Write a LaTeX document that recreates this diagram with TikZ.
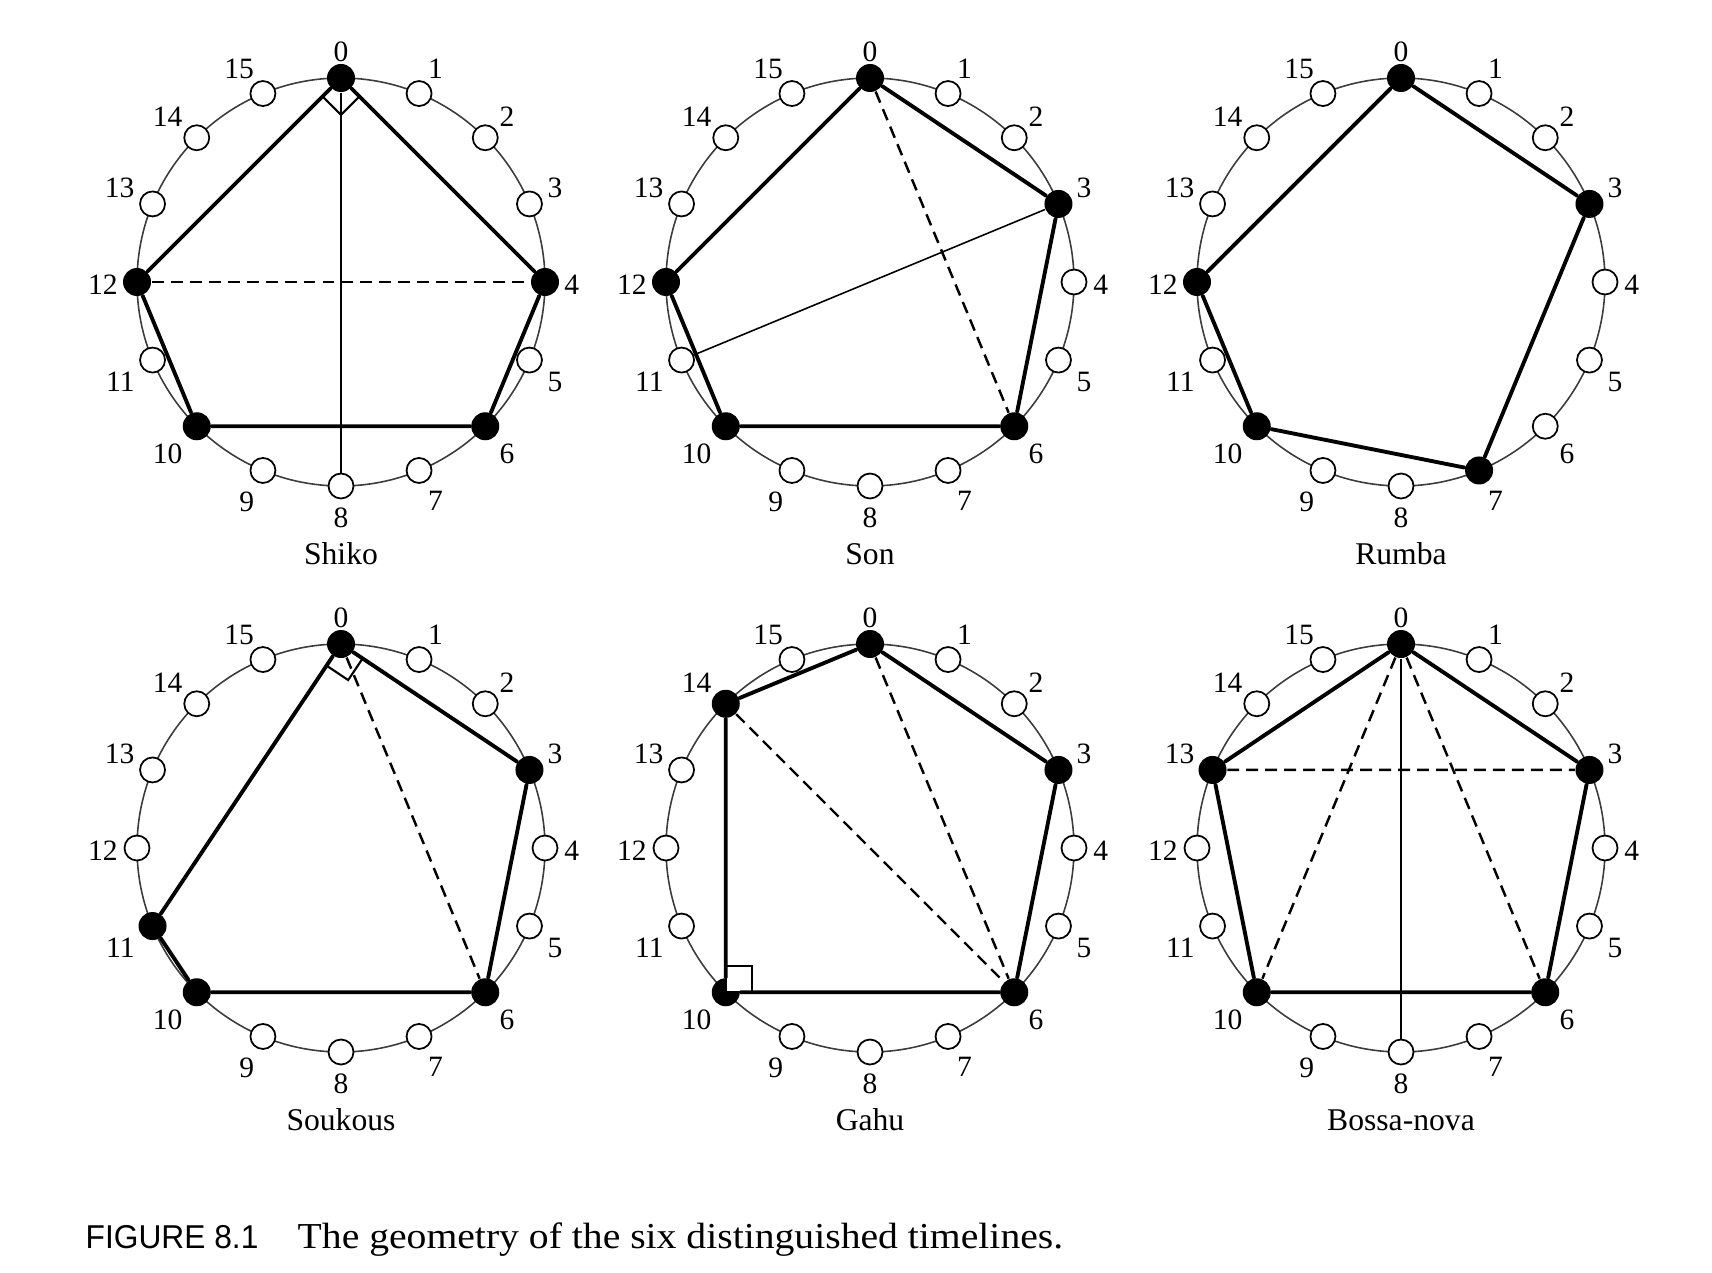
\documentclass[tikz,border=0pt]{standalone}
\usepackage{fontspec}
\setmainfont{Liberation Serif}
\setsansfont{Liberation Sans}[FakeStretch=0.96]
\newfontfamily\capfont{Liberation Serif}[FakeStretch=1.085]
\usepackage{tikz}
\usetikzlibrary{calc}
\definecolor{rimgrey}{RGB}{60,60,60}
\tikzset{
  timeline chart/.style={
    rim/.style={draw=rimgrey,line width=0.45pt},
    pulse/.style={circle,draw=black,line width=0.5pt,fill=white,
      inner sep=0pt,minimum size=0.25cm},
    onset/.style={circle,fill=black,inner sep=0pt,minimum size=0.28cm},
    pulse label/.style={font={\fontsize{8.4}{10}\selectfont},inner sep=0.5pt,yshift=-0.3mm},
    rhythm name/.style={font={\fontsize{9}{11}\selectfont},anchor=base},
    side/.style={black,line width=1.1pt,line cap=round},
    chord/.style={black,line width=0.7pt,dash pattern=on 3.4pt off 2pt},
    spoke/.style={black,line width=0.45pt},
    corner/.style={draw=black,line width=0.6pt},
    caption tag/.style={font={\sffamily\fontsize{9.4}{11}\selectfont},anchor=base west,inner sep=0pt},
    caption text/.style={font={\capfont\fontsize{10.4}{12}\selectfont},anchor=base west,inner sep=0pt},
    label distance=1pt
  }
}
\newcommand{\rad}{2.04}
\newcommand{\necklace}[4]{
    \begin{scope}[shift={#2}]
    \draw[rim] (0,0) circle (\rad);
    \foreach \k in {0,...,15}{
        \pgfmathsetmacro{\ang}{90-22.5*\k}
        \node[pulse,label={[pulse label]\ang:\k}] (#1-\k) at (\ang:\rad) {};
    }
    \foreach \k in {#3}{
        \pgfmathsetmacro{\ang}{90-22.5*\k}
        \node[onset] (#1-\k) at (\ang:\rad) {};
    }
    \node[rhythm name] (#1-name) at (0,-2.82) {#4};
    \end{scope}
}
\newcommand{\sides}[3][side]{
    \draw[#1] \foreach \a/\b in {#3} {(#2-\a) -- (#2-\b)};
}
\newcommand{\rightangle}[4][]{
    \draw[corner,#1] (#2.center) -- ($(#2)!0.26cm!(#3)$)
        -- ($(#2)!0.26cm!(#3)+(#2)!0.26cm!(#4)-(#2)$)
        -- ($(#2)!0.26cm!(#4)$) -- cycle;
}

\begin{document}
\begin{tikzpicture}[timeline chart]
    \useasboundingbox (0,0) rectangle (17.12,12.72);

    % top row
    \necklace{shiko}{(3.41,9.90)}{0,4,6,10,12}{Shiko}
    \rightangle{shiko-0}{shiko-12}{shiko-4}
    \sides{shiko}{0/4,4/6,6/10,10/12,12/0}
    \sides[chord]{shiko}{12/4}
    \sides[spoke]{shiko}{0/8}

    \necklace{son}{(8.70,9.90)}{0,3,6,10,12}{Son}
    \sides{son}{0/3,3/6,6/10,10/12,12/0}
    \sides[chord]{son}{0/6}
    \sides[spoke]{son}{3/11}

    \necklace{rumba}{(14.01,9.90)}{0,3,7,10,12}{Rumba}
    \sides{rumba}{0/3,3/7,7/10,10/12,12/0}

    % bottom row
    \necklace{soukous}{(3.41,4.24)}{0,3,6,10,11}{Soukous}
    \rightangle{soukous-0}{soukous-11}{soukous-3}
    \sides{soukous}{0/3,3/6,6/10,10/11,11/0}
    \sides[chord]{soukous}{0/6}

    \necklace{gahu}{(8.70,4.24)}{0,3,6,10,14}{Gahu}
    \rightangle[fill=white]{gahu-10}{gahu-14}{gahu-6}
    \sides{gahu}{0/3,3/6,6/10,10/14,14/0}
    \sides[chord]{gahu}{14/6,0/6}

    \necklace{bossa}{(14.01,4.24)}{0,3,6,10,13}{Bossa-nova}
    \sides{bossa}{0/3,3/6,6/10,10/13,13/0}
    \sides[chord]{bossa}{13/3,0/10,0/6}
    \sides[spoke]{bossa}{0/8}

    \node[caption tag] (fig-tag) at (0.85,0.24) {FIGURE 8.1};
    \node[caption text] (fig-text) at (2.97,0.24) {The geometry of the six distinguished timelines.};
\end{tikzpicture}
\end{document}
